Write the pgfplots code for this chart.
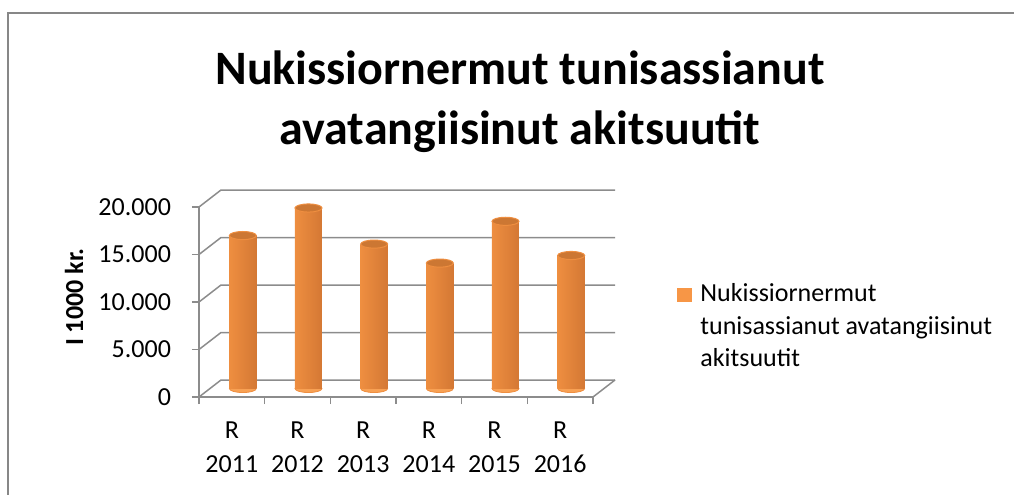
\documentclass[border=0pt]{standalone}
\usepackage{fontspec}
\setmainfont{Carlito}
\usepackage{pgfplots}
\pgfplotsset{compat=1.18}
\definecolor{framec}{HTML}{878787}
\definecolor{gridc}{HTML}{8C8C8C}
\definecolor{barmid}{HTML}{FFAE62}
\definecolor{barleft}{HTML}{EE8E40}
\definecolor{barright}{HTML}{D47834}
\definecolor{bartop}{HTML}{CC7733}
\definecolor{legc}{HTML}{F79646}

\begin{document}
\begin{tikzpicture}[x=0.5pt,y=0.5pt]
\useasboundingbox (0,0) rectangle (1014,494);
\draw[framec, line width=1pt] (8,-10) -- (8,481) -- (1030,481);
\node[font=\fontsize{24}{28.5}\selectfont\bfseries, anchor=base] at (520,409) {Nukissiornermut tunisassianut};
\node[font=\fontsize{24}{28.5}\selectfont\bfseries, anchor=base] at (520,350) {avatangiisinut akitsuutit};
\node[rotate=90, font=\fontsize{13}{16}\selectfont\bfseries] at (74,197) {I 1000 kr.};

% front plane: axis lines, ticks, labels, back wall
\begin{axis}[at={(99.5pt,48.5pt)}, anchor=south west, scale only axis,
  width=197pt, height=95pt,
  xmin=0.5, xmax=6.5, ymin=0, ymax=20000,
  axis x line=bottom, axis y line=left,
  axis line style={gridc, line width=0.75pt, -},
  tick align=outside, major tick length=3.5pt,
  tick style={gridc, line width=0.75pt},
  ytick={0,5000,10000,15000,20000}, scaled y ticks=false,
  xtick={0.5,1.5,...,6.5}, xticklabels={},
  extra x ticks={1,2,3,4,5,6},
  extra x tick labels={{R\\2011},{R\\2012},{R\\2013},{R\\2014},{R\\2015},{R\\2016}},
  extra x tick style={major tick length=0pt},
  xticklabel style={align=center, font=\fontsize{13}{17}\selectfont, yshift=-9pt},
  yticklabel style={font=\fontsize{13}{16}\selectfont, xshift=-7pt},
  /pgf/number format/1000 sep={.},
  /pgf/number format/assume math mode=true,
  clip=false]
  \foreach \v in {0,5000,10000,15000,20000} {
    \edef\tmp{\noexpand\draw[gridc, line width=0.75pt] (axis cs:0.5,\v) -- ++(11pt,8.5pt) -- ++(197pt,0pt);}
    \tmp
  }
  \draw[gridc, line width=0.75pt] (axis cs:6.5,0) -- ++(11pt,8.5pt);
\end{axis}

% mid-depth plane: rounded bottoms of the cylinders
\begin{axis}[at={(105pt,52.75pt)}, anchor=south west, scale only axis,
  width=197pt, height=95pt,
  xmin=0.5, xmax=6.5, ymin=0, ymax=20000,
  hide axis, clip=false]
  \addplot[only marks, mark=*, mark size=6.75pt, color=barleft,
    mark options={yscale=0.3, draw=barleft, fill=barmid!60!barleft}]
    coordinates {(1,0) (2,0) (3,0) (4,0) (5,0) (6,0)};
\end{axis}

% mid-depth plane: cylinders
\begin{axis}[at={(105pt,52.75pt)}, anchor=south west, scale only axis,
  width=197pt, height=95pt,
  xmin=0.5, xmax=6.5, ymin=0, ymax=20000,
  hide axis, clip=false]
  \pgfplotsset{cyl/.style={ybar, bar width=13.5pt, draw=none,
    left color=barleft, middle color=barmid, right color=barright}}
  \addplot[cyl] coordinates {(1,16100)};
  \addplot[cyl] coordinates {(2,19000)};
  \addplot[cyl] coordinates {(3,15200)};
  \addplot[cyl] coordinates {(4,13200)};
  \addplot[cyl] coordinates {(5,17600)};
  \addplot[cyl] coordinates {(6,14000)};
  \addplot[only marks, mark=*, mark size=6.75pt, color=bartop,
    mark options={yscale=0.3, fill=bartop, draw=barleft, line width=0.5pt}]
    coordinates {(1,16100) (2,19000) (3,15200) (4,13200) (5,17600) (6,14000)};
\end{axis}

% legend
\fill[legc] (677,192) rectangle (692,206);
\begin{scope}[font=\fontsize{13}{16}\selectfont]
\node[anchor=base west, inner sep=0pt] at (700,192.3) {Nukissiornermut};
\node[anchor=base west, inner sep=0pt] at (700,160) {tunisassianut avatangiisinut};
\node[anchor=base west, inner sep=0pt] at (700,127.5) {akitsuutit};
\end{scope}
\end{tikzpicture}
\end{document}
